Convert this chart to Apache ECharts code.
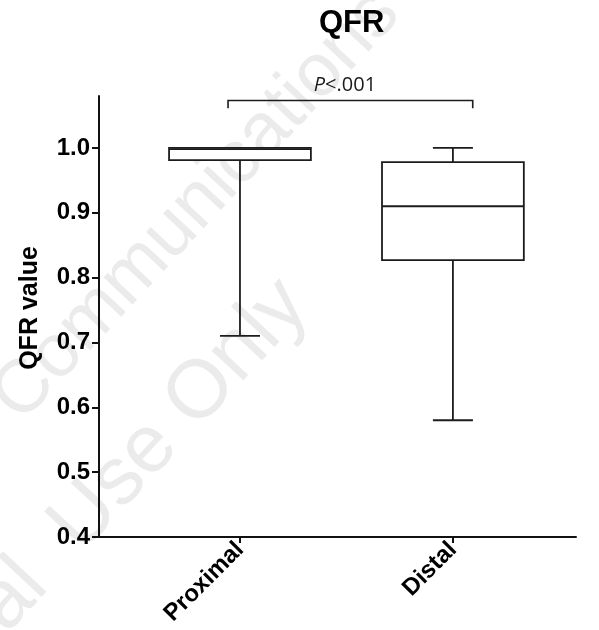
<!DOCTYPE html>
<html><head><meta charset="utf-8">
<script src="https://cdn.jsdelivr.net/npm/echarts@6/dist/echarts.min.js"></script>
<style>html,body{margin:0;padding:0;background:#fff}#chart{width:599px;height:630px}</style>
</head><body><div id="chart"></div>
<script>
// ---- data ----
const categories = ['Proximal', 'Distal'];
const minValues = [0.71, 0.58];
const q1Values = [0.981, 0.827];
const medianValues = [0.998, 0.91];
const q3Values = [1.0, 0.978];
const maxValues = [1.0, 1.0];
const yTickValues = [0.4, 0.5, 0.6, 0.7, 0.8, 0.9, 1.0];
const comparePair = [0, 1];
const pValueText = '{i|P}<.001';

// ---- build ----
const boxData = categories.map((c, i) => [i, minValues[i], q1Values[i], medianValues[i], q3Values[i], maxValues[i]]);
const catIdx = categories.map((c, i) => i);

const LINE = '#1c1c1c';
const BOX_HALF = 0.333, CAP_HALF = 0.094;
const WM_ROT = 47 * Math.PI / 180;

function renderBox(params, api) {
  const x = api.value(0);
  const px = v => api.coord([v, 0.5])[0];
  const py = v => api.coord([x, v])[1];
  const left = px(x - BOX_HALF), right = px(x + BOX_HALF), cx = px(x);
  const capL = px(x - CAP_HALF), capR = px(x + CAP_HALF);
  const yMin = py(api.value(1)), yQ1 = py(api.value(2)), yMed = py(api.value(3)),
        yQ3 = py(api.value(4)), yMax = py(api.value(5));
  const st = { stroke: LINE, lineWidth: 1.8, fill: null };
  return {
    type: 'group',
    children: [
      { type: 'line', shape: { x1: cx, y1: yQ3, x2: cx, y2: yMax }, style: st },
      { type: 'line', shape: { x1: cx, y1: yQ1, x2: cx, y2: yMin }, style: st },
      { type: 'line', shape: { x1: capL, y1: yMax, x2: capR, y2: yMax }, style: st },
      { type: 'line', shape: { x1: capL, y1: yMin, x2: capR, y2: yMin }, style: st },
      { type: 'rect', shape: { x: left, y: yQ3, width: right - left, height: yQ1 - yQ3 }, style: { stroke: LINE, lineWidth: 1.8, fill: '#fff' } },
      { type: 'line', shape: { x1: left, y1: yMed, x2: right, y2: yMed }, style: st }
    ]
  };
}

function renderBracket(params, api) {
  const a = api.value(0), b = api.value(1);
  const xl = api.coord([a - 0.056, 1])[0];
  const xr = api.coord([b + 0.093, 1])[0];
  const yTop = api.coord([a, 1.073])[1];
  const yEnd = api.coord([a, 1.061])[1];
  const tp = api.coord([(a + b) / 2 - 0.007, 1.097]);
  const st = { stroke: LINE, lineWidth: 1.6, fill: null };
  return {
    type: 'group',
    children: [
      { type: 'polyline', shape: { points: [[xl, yEnd], [xl, yTop], [xr, yTop], [xr, yEnd]] }, style: st },
      { type: 'text', x: tp[0], y: tp[1], style: {
          text: pValueText, align: 'center', verticalAlign: 'middle',
          textAlign: 'center', textVerticalAlign: 'middle',
          fontFamily: 'Open Sans', fontSize: 20, fill: '#1a1a1a',
          rich: { i: { fontStyle: 'italic', fontFamily: 'Open Sans', fontSize: 20, fill: '#1a1a1a' } }
        } }
    ]
  };
}

const chart = echarts.init(document.getElementById('chart'), null, { renderer: 'canvas' });
chart.setOption({
  animation: false,
  backgroundColor: '#fff',
  title: {
    text: 'QFR', left: 314, top: 3,
    textStyle: { fontFamily: 'Liberation Sans', fontSize: 31, fontWeight: 'bold', color: '#000' }
  },
  graphic: [
    { type: 'text', x: 6, y: 410, rotation: WM_ROT, z: -10, silent: true,
      style: { text: 'Communications', fontFamily: 'Liberation Sans', fontSize: 75, fill: '#ebebeb',
               align: 'left', verticalAlign: 'middle', textAlign: 'left', textVerticalAlign: 'middle' } },
    { type: 'text', x: -10, y: 619, rotation: WM_ROT, z: -10, silent: true,
      style: { text: 'al  Use Only', fontFamily: 'Liberation Sans', fontSize: 82, fill: '#ebebeb',
               align: 'left', verticalAlign: 'middle', textAlign: 'left', textVerticalAlign: 'middle' } }
  ],
  grid: { left: 99, right: 23, top: 96, bottom: 93, containLabel: false },
  xAxis: {
    type: 'value', min: -0.662, max: 1.578,
    splitLine: { show: false },
    axisLine: { show: true, onZero: false, lineStyle: { color: '#111', width: 2 } },
    axisTick: { show: true, customValues: catIdx, length: 6, lineStyle: { color: '#111', width: 2 } },
    axisLabel: {
      customValues: catIdx, rotate: 45, margin: 9,
      formatter: v => categories[Math.round(v)],
      fontFamily: 'Liberation Sans', fontSize: 24, fontWeight: 'bold', color: '#000'
    }
  },
  yAxis: {
    type: 'value', min: 0.4, max: 1.08,
    name: 'QFR value', nameLocation: 'middle', nameGap: 56, nameRotate: 90,
    nameTextStyle: { fontFamily: 'Liberation Sans', fontSize: 25, fontWeight: 'bold', color: '#000', padding: [0, 0, 0, 17] },
    splitLine: { show: false },
    axisLine: { show: true, onZero: false, lineStyle: { color: '#111', width: 2 } },
    axisTick: { show: true, customValues: yTickValues, length: 7, lineStyle: { color: '#111', width: 2 } },
    axisLabel: {
      customValues: yTickValues, margin: 9,
      formatter: v => v.toFixed(1),
      fontFamily: 'Liberation Sans', fontSize: 24, fontWeight: 'bold', color: '#000'
    }
  },
  series: [
    { type: 'custom', name: 'box', renderItem: renderBox, data: boxData,
      encode: { x: 0, y: [1, 2, 3, 4, 5] }, clip: false, z: 3 },
    { type: 'custom', name: 'bracket', renderItem: renderBracket, data: [comparePair],
      encode: { x: [0, 1] }, clip: false, z: 3 }
  ]
});
</script>
</body></html>
